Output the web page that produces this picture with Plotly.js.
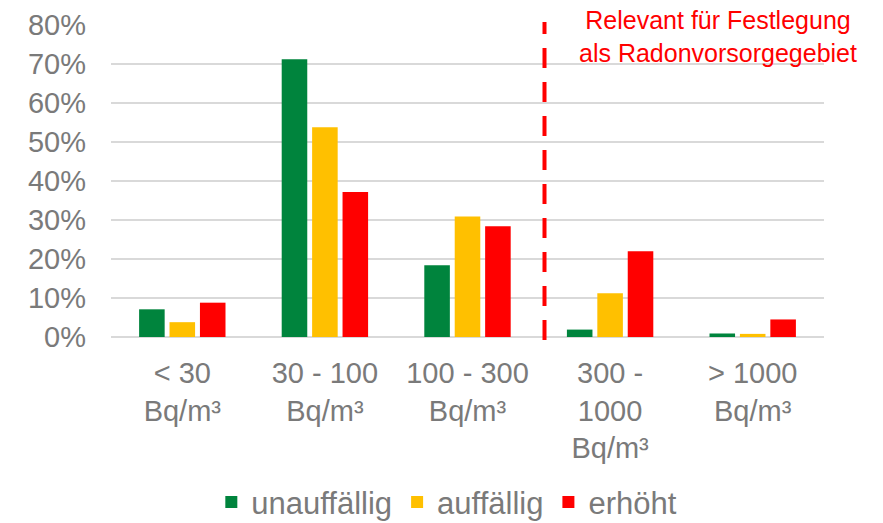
<!DOCTYPE html>
<html>
<head>
<meta charset="utf-8">
<script src="https://cdn.plot.ly/plotly-3.0.1.min.js"></script>
<style>html,body{margin:0;padding:0;background:#fff;}#chart{width:883px;height:523px;}</style>
</head>
<body>
<div id="chart"></div>
<script>
const categories = ["< 30<br>Bq/m³", "30 - 100<br>Bq/m³", "100 - 300<br>Bq/m³", "300 -<br>1000<br>Bq/m³", "> 1000<br>Bq/m³"];
const seriesNames = ["unauffällig", "auffällig", "erhöht"];
const unauffaellig = [0.071, 0.712, 0.184, 0.019, 0.009];
const auffaellig = [0.038, 0.538, 0.309, 0.112, 0.008];
const erhoeht = [0.088, 0.372, 0.284, 0.220, 0.045];
const colors = ["#00843D", "#FFC000", "#FF0000"];
const annotationText = "Relevant für Festlegung<br>als Radonvorsorgegebiet";
const dividerPos = 2.54;

const font = "Liberation Sans, Arial, sans-serif";
const grey = "#7a7a7a";
const traces = [unauffaellig, auffaellig, erhoeht].map((vals, i) => ({
  type: "bar", x: categories, y: vals, name: seriesNames[i],
  marker: {color: colors[i]}, hoverinfo: "skip"
}));

const layout = {
  width: 883, height: 523,
  margin: {l: 111, r: 59, t: 25, b: 186, autoexpand: false},
  paper_bgcolor: "#fff", plot_bgcolor: "#fff",
  font: {family: font, color: grey, size: 29},
  barmode: "group", bargap: 0.36, bargroupgap: 0.16,
  showlegend: true,
  legend: {orientation: "h", x: 0.471, xanchor: "center", y: -0.53, yanchor: "middle",
           font: {size: 31, color: grey}, itemwidth: 30, tracegroupgap: 0},
  xaxis: {type: "category", showgrid: false, showline: false, zeroline: false, ticks: "",
          tickfont: {size: 29, color: grey}, ticklabelstandoff: 16, automargin: false},
  yaxis: {range: [0, 0.8], dtick: 0.1, tickformat: ".0%", showgrid: true, gridcolor: "#d9d9d9", gridwidth: 1.5,
          zeroline: true, zerolinecolor: "#d9d9d9", zerolinewidth: 1.5, showline: false, ticks: "",
          tickfont: {size: 29, color: grey}, ticklabelstandoff: 24, automargin: false},
  shapes: [{type: "line", xref: "x", yref: "paper", x0: dividerPos, x1: dividerPos, y0: -0.01, y1: 1.01,
            line: {color: "#FF0000", width: 4, dash: "20px,14px"}}],
  annotations: [{xref: "paper", yref: "paper", x: 0.852, y: 1.066, xanchor: "center", yanchor: "top",
                 text: annotationText, showarrow: false, align: "center",
                 font: {family: font, size: 25, color: "#FF0000"}}]
};

Plotly.newPlot("chart", traces, layout, {displayModeBar: false, staticPlot: true});
</script>
</body>
</html>
